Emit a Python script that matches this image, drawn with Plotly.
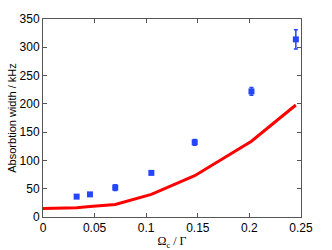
import plotly.graph_objects as go

omega_data = [0.0326, 0.0455, 0.070, 0.105, 0.147, 0.202, 0.245]
width_data = [36, 40, 52, 78, 132, 222, 314]
width_err = [3, 3, 5, 3, 5, 7, 17]

omega_theory = [0.0, 0.0326, 0.0455, 0.070, 0.105, 0.147, 0.202, 0.245]
width_theory = [15, 16.5, 18.5, 22, 40, 73, 134, 198]

x_ticks = [0, 0.05, 0.1, 0.15, 0.2, 0.25]
x_tick_labels = ["0", "0.05", "0.1", "0.15", "0.2", "0.25"]
y_ticks = [0, 50, 100, 150, 200, 250, 300, 350]

fig = go.Figure()
fig.add_trace(go.Scatter(
    x=omega_theory, y=width_theory, mode="lines",
    line=dict(color="#ff0000", width=3), showlegend=False))
fig.add_trace(go.Scatter(
    x=omega_data, y=width_data, mode="markers",
    marker=dict(color="#2545ff", size=6, symbol="square"),
    error_y=dict(type="data", array=width_err, color="#2545ff", thickness=1.5, width=2),
    showlegend=False))

axis_common = dict(
    showgrid=False, zeroline=False, showline=True, linecolor="#555555", linewidth=1,
    mirror="ticks", ticks="inside", ticklen=4, tickcolor="#555555", automargin=False,
    tickfont=dict(family="Liberation Sans, Arial", size=12, color="black"),
)
fig.update_xaxes(range=[0, 0.25], tickvals=x_ticks, ticktext=x_tick_labels,
                 title=dict(text="Ω<sub>c</sub> / Γ", standoff=2,
                            font=dict(family="Liberation Serif, Times New Roman", size=12, color="black")),
                 **axis_common)
fig.update_yaxes(range=[0, 350], tickvals=y_ticks,
                 title=dict(text="Absorbtion width / kHz", standoff=0,
                            font=dict(family="Liberation Sans, Arial", size=11, color="black")),
                 **axis_common)
fig.update_layout(
    width=332, height=250, margin=dict(l=43, r=31, t=19, b=33),
    paper_bgcolor="white", plot_bgcolor="white",
)
fig.write_html("out.html", config={"displayModeBar": False},
               post_script="document.body.style.margin='0';document.body.style.padding='0';")
